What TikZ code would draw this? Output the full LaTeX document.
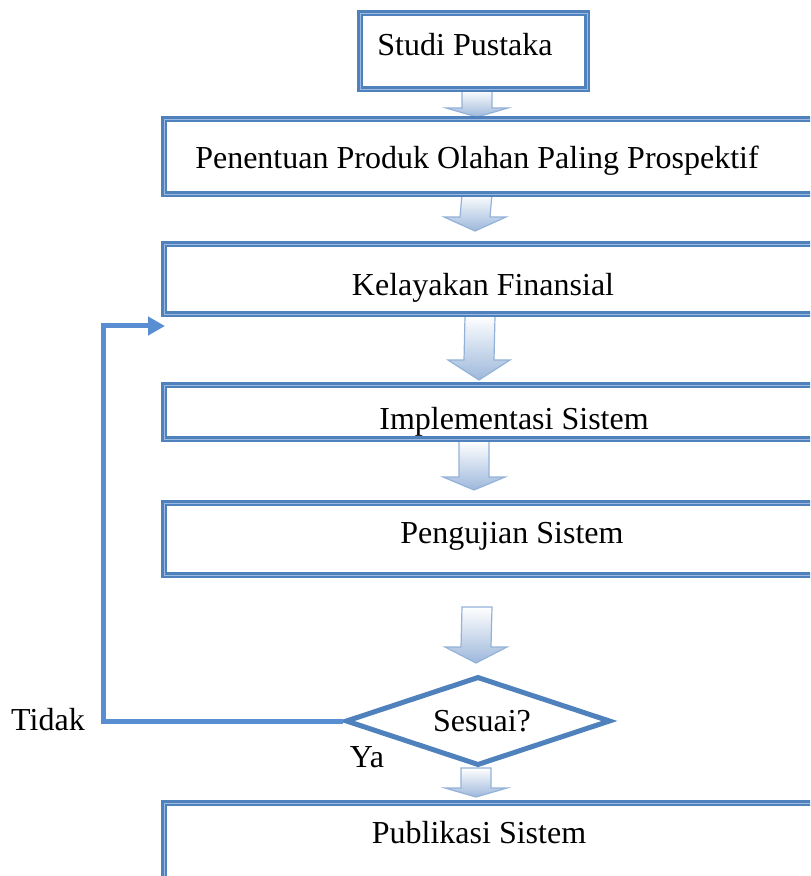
\documentclass[tikz,border=0pt]{standalone}
\usepackage{fontspec}
\setmainfont{Liberation Serif}
\usetikzlibrary{calc,shapes.geometric,arrows.meta}
\definecolor{boxblue}{HTML}{4F81BD}
\definecolor{stripe}{HTML}{9DBBE2}
\definecolor{fbblue}{HTML}{5A8ED3}
\definecolor{arrowtop}{HTML}{FFFFFF}
\definecolor{arrowbot}{HTML}{9DB8DB}
\definecolor{arrowline}{HTML}{94B2D9}
\tikzset{
  stepbox/.style={rectangle, draw=boxblue, line width=3pt, fill=white, inner sep=0pt,
    postaction={draw=stripe, line width=0.45pt}},
  lbl/.style={font=\fontsize{16}{19}\selectfont, anchor=base, inner sep=0pt},
  barrowstyle/.style={top color=arrowtop, bottom color=arrowbot, draw=arrowline, line width=0.6pt},
  fb/.style={draw=fbblue, line width=2.5pt},
  decision/.style={diamond, draw=boxblue, line width=2.5pt, fill=white, inner sep=0pt}
}
\newcommand{\blockarrow}[3]{%
  \path[barrowstyle] ($(#1)+(-15,0)$) -- ($(#1)+(15,0)$) -- ($(#2)+(15,-#3)$)
    -- ($(#2)+(31,-#3)$) -- (#2) -- ($(#2)+(-31,-#3)$) -- ($(#2)+(-15,-#3)$) -- cycle;}
\begin{document}
\begin{tikzpicture}[x=0.5pt,y=-0.5pt]
\useasboundingbox (0,0) rectangle (810,876);
\clip (0,0) rectangle (810,876);
% arrow coordinates
\coordinate (a1s) at (477,90);  \coordinate (a1e) at (477,117);
\coordinate (a2s) at (477,194); \coordinate (a2e) at (475,231);
\coordinate (a3s) at (480,316); \coordinate (a3e) at (479,380);
\coordinate (a4s) at (474,441); \coordinate (a4e) at (474,490);
\coordinate (a5s) at (477,607); \coordinate (a5e) at (476,663);
\coordinate (a6s) at (476,768); \coordinate (a6e) at (476,797);
\blockarrow{a1s}{a1e}{9}
\blockarrow{a2s}{a2e}{14}
\blockarrow{a3s}{a3e}{20}
\blockarrow{a4s}{a4e}{13}
\blockarrow{a5s}{a5e}{16}
\blockarrow{a6s}{a6e}{9}
% boxes
\node[stepbox, minimum width=113.5pt, minimum height=38pt] (b1) at (473.5,51) {};
\node[stepbox, minimum width=338pt, minimum height=37.5pt] (b2) at (502,156.5) {};
\node[stepbox, minimum width=338pt, minimum height=35pt] (b3) at (502,279) {};
\node[stepbox, minimum width=338pt, minimum height=27pt] (b4) at (502,412) {};
\node[stepbox, minimum width=338pt, minimum height=36pt] (b5) at (502,539) {};
\node[stepbox, minimum width=338pt, minimum height=42pt] (b6) at (502,845) {};
\node[decision, minimum width=132.5pt, minimum height=44.5pt] (d) at (478,721) {};
% texts
\node[lbl] (t1) at (465,56) {Studi Pustaka};
\node[lbl] (t2) at (477,169) {Penentuan Produk Olahan Paling Prospektif};
\node[lbl] (t3) at (483,296) {Kelayakan Finansial};
\node[lbl] (t4) at (514,429) {Implementasi Sistem};
\node[lbl] (t5) at (512,543) {Pengujian Sistem};
\node[lbl] (t6) at (482,731) {Sesuai?};
\node[lbl] (t7) at (479,843) {Publikasi Sistem};
\node[lbl] (tidak) at (48,730) {Tidak};
\node[lbl] (ya) at (367,767) {Ya};
% feedback
\coordinate (fbend) at (165,326);
\draw[fb, -{Triangle[length=8.5pt,width=9pt]}] (d.west) -- (103,721) |- (fbend);
\end{tikzpicture}
\end{document}
